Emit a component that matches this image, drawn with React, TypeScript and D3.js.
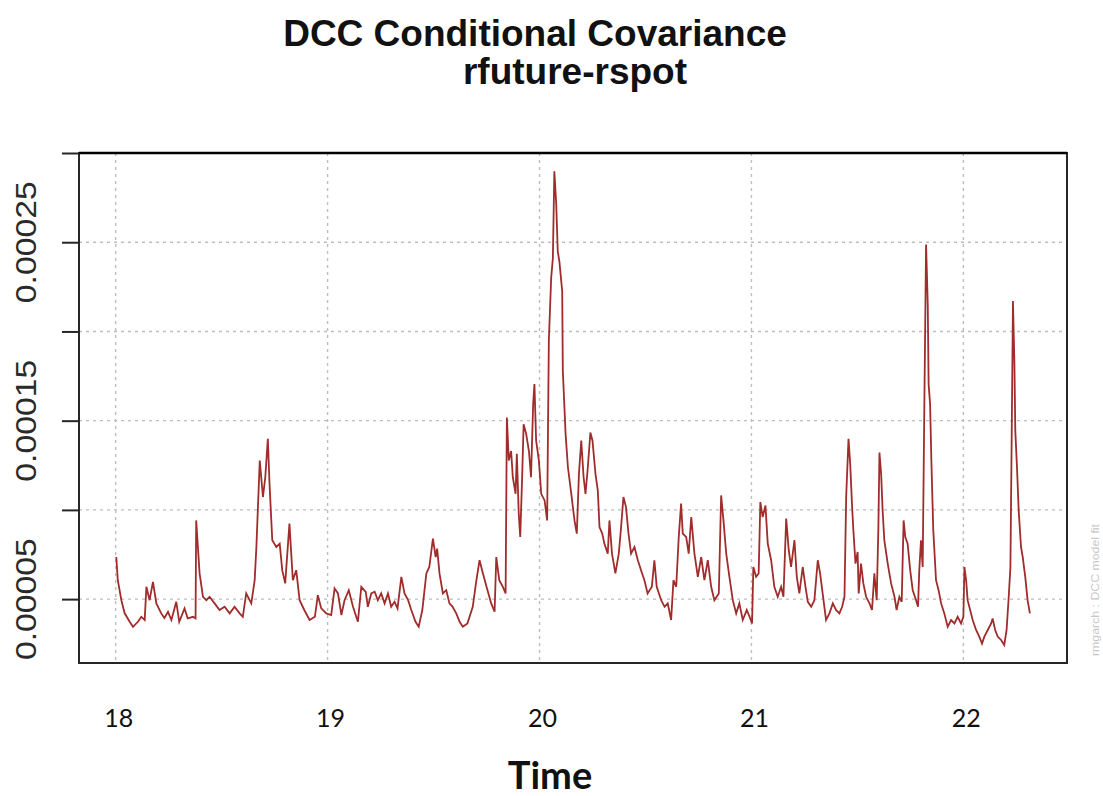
import React, { useEffect, useRef } from 'react';
import * as d3 from 'd3';

const years = [
  18.003, 18.010, 18.027, 18.042, 18.066, 18.082, 18.105, 18.121, 18.137, 18.145, 18.160, 18.176, 18.192, 18.215,
  18.230, 18.247, 18.263, 18.286, 18.300, 18.325, 18.340, 18.365, 18.377, 18.380, 18.388, 18.396, 18.412, 18.428,
  18.443, 18.467, 18.490, 18.514, 18.538, 18.561, 18.585, 18.600, 18.616, 18.640, 18.656, 18.664, 18.680, 18.695,
  18.706, 18.718, 18.726, 18.739, 18.758, 18.774, 18.786, 18.800, 18.820, 18.836, 18.852, 18.868, 18.890, 18.915,
  18.940, 18.954, 18.970, 18.994, 19.017, 19.033, 19.049, 19.065, 19.080, 19.100, 19.120, 19.143, 19.159, 19.180,
  19.190, 19.206, 19.222, 19.237, 19.253, 19.269, 19.285, 19.300, 19.316, 19.330, 19.348, 19.363, 19.380, 19.395,
  19.415, 19.430, 19.447, 19.466, 19.480, 19.497, 19.510, 19.517, 19.528, 19.544, 19.560, 19.575, 19.590, 19.607,
  19.623, 19.638, 19.660, 19.685, 19.700, 19.717, 19.733, 19.750, 19.772, 19.788, 19.796, 19.810, 19.827, 19.840,
  19.846, 19.855, 19.866, 19.874, 19.887, 19.893, 19.902, 19.909, 19.918, 19.925, 19.937, 19.950, 19.960, 19.970,
  19.976, 19.984, 19.997, 20.008, 20.024, 20.036, 20.044, 20.055, 20.063, 20.070, 20.079, 20.086, 20.094, 20.107,
  20.110, 20.123, 20.134, 20.150, 20.165, 20.176, 20.186, 20.197, 20.208, 20.217, 20.228, 20.240, 20.250, 20.264,
  20.275, 20.283, 20.296, 20.306, 20.322, 20.330, 20.342, 20.358, 20.374, 20.385, 20.396, 20.408, 20.420, 20.432,
  20.448, 20.464, 20.479, 20.495, 20.510, 20.530, 20.542, 20.553, 20.574, 20.590, 20.605, 20.621, 20.632, 20.645,
  20.657, 20.668, 20.676, 20.692, 20.704, 20.716, 20.731, 20.747, 20.763, 20.778, 20.794, 20.810, 20.825, 20.846,
  20.857, 20.868, 20.881, 20.896, 20.912, 20.928, 20.943, 20.959, 20.978, 20.991, 21.003, 21.009, 21.022, 21.034,
  21.042, 21.053, 21.066, 21.077, 21.093, 21.108, 21.124, 21.140, 21.151, 21.164, 21.176, 21.187, 21.203, 21.214,
  21.226, 21.242, 21.255, 21.266, 21.282, 21.297, 21.313, 21.324, 21.336, 21.352, 21.368, 21.384, 21.399, 21.415,
  21.428, 21.439, 21.447, 21.458, 21.466, 21.475, 21.481, 21.491, 21.501, 21.506, 21.517, 21.528, 21.541, 21.557,
  21.569, 21.580, 21.591, 21.599, 21.604, 21.612, 21.619, 21.627, 21.643, 21.659, 21.675, 21.685, 21.698, 21.709,
  21.718, 21.726, 21.737, 21.749, 21.761, 21.777, 21.786, 21.792, 21.800, 21.808, 21.816, 21.824, 21.832, 21.836,
  21.843, 21.849, 21.858, 21.871, 21.883, 21.895, 21.910, 21.926, 21.942, 21.958, 21.973, 21.989, 22.000, 22.005,
  22.013, 22.020, 22.032, 22.044, 22.060, 22.075, 22.088, 22.099, 22.115, 22.131, 22.138, 22.150, 22.162, 22.178,
  22.193, 22.204, 22.214, 22.222, 22.228, 22.234, 22.241, 22.245, 22.253, 22.261, 22.272, 22.280, 22.292, 22.303,
  22.314,
];

// conditional covariance rfuture-rspot
const covariance = [
  7.36e-5, 6.06e-5, 4.94e-5, 4.22e-5, 3.73e-5, 3.45e-5, 3.73e-5, 4.01e-5, 3.83e-5, 5.69e-5, 4.94e-5, 5.97e-5, 4.76e-5, 4.20e-5,
  3.94e-5, 4.29e-5, 3.83e-5, 4.85e-5, 3.73e-5, 4.48e-5, 3.92e-5, 4.01e-5, 3.92e-5, 9.41e-5, 7.92e-5, 6.44e-5, 5.13e-5, 4.94e-5,
  5.13e-5, 4.76e-5, 4.39e-5, 4.57e-5, 4.20e-5, 4.57e-5, 4.20e-5, 4.01e-5, 5.32e-5, 4.76e-5, 6.06e-5, 7.92e-5, 12.77e-5, 10.72e-5,
  11.83e-5, 13.98e-5, 11.46e-5, 8.30e-5, 7.92e-5, 8.11e-5, 6.62e-5, 5.88e-5, 9.23e-5, 6.06e-5, 6.62e-5, 4.94e-5, 4.39e-5, 3.83e-5,
  4.01e-5, 5.22e-5, 4.48e-5, 4.20e-5, 4.11e-5, 5.60e-5, 5.32e-5, 4.11e-5, 4.94e-5, 5.50e-5, 4.57e-5, 3.73e-5, 5.69e-5, 5.41e-5,
  4.57e-5, 5.32e-5, 5.41e-5, 4.94e-5, 5.32e-5, 4.76e-5, 5.32e-5, 4.57e-5, 4.85e-5, 4.48e-5, 6.25e-5, 5.32e-5, 4.94e-5, 4.39e-5,
  3.73e-5, 3.45e-5, 4.39e-5, 6.44e-5, 6.80e-5, 8.39e-5, 7.36e-5, 7.83e-5, 6.44e-5, 5.32e-5, 5.50e-5, 4.76e-5, 4.57e-5, 4.20e-5,
  3.73e-5, 3.45e-5, 3.64e-5, 4.57e-5, 5.88e-5, 7.18e-5, 6.44e-5, 5.69e-5, 4.76e-5, 4.29e-5, 7.36e-5, 6.06e-5, 5.69e-5, 5.32e-5,
  15.18e-5, 12.77e-5, 13.30e-5, 11.83e-5, 10.90e-5, 13.14e-5, 9.79e-5, 8.48e-5, 11.83e-5, 14.80e-5, 14.26e-5, 13.30e-5, 11.83e-5, 15.93e-5,
  17.05e-5, 13.88e-5, 12.77e-5, 10.90e-5, 10.53e-5, 9.41e-5, 19.47e-5, 23.00e-5, 24.10e-5, 28.97e-5, 27.10e-5, 24.50e-5, 23.90e-5, 22.26e-5,
  17.80e-5, 14.26e-5, 12.39e-5, 10.90e-5, 9.41e-5, 8.67e-5, 12.02e-5, 13.88e-5, 11.83e-5, 10.90e-5, 12.39e-5, 14.34e-5, 13.88e-5, 12.02e-5,
  11.09e-5, 9.04e-5, 8.67e-5, 8.11e-5, 7.55e-5, 9.41e-5, 7.55e-5, 6.44e-5, 7.55e-5, 9.04e-5, 10.72e-5, 10.16e-5, 8.67e-5, 7.55e-5,
  7.92e-5, 7.18e-5, 6.62e-5, 6.06e-5, 5.32e-5, 5.69e-5, 7.18e-5, 5.69e-5, 4.94e-5, 4.57e-5, 4.76e-5, 3.83e-5, 6.06e-5, 5.69e-5,
  8.48e-5, 10.35e-5, 8.67e-5, 8.48e-5, 7.55e-5, 9.60e-5, 7.55e-5, 6.25e-5, 7.36e-5, 6.06e-5, 7.18e-5, 5.69e-5, 4.94e-5, 5.32e-5,
  10.81e-5, 9.41e-5, 7.55e-5, 6.25e-5, 4.94e-5, 4.20e-5, 4.76e-5, 3.83e-5, 4.39e-5, 4.01e-5, 3.64e-5, 6.80e-5, 6.25e-5, 6.44e-5,
  10.44e-5, 9.60e-5, 10.25e-5, 8.11e-5, 7.18e-5, 5.69e-5, 5.13e-5, 5.69e-5, 5.13e-5, 9.51e-5, 7.74e-5, 6.80e-5, 8.30e-5, 6.25e-5,
  5.32e-5, 6.80e-5, 5.69e-5, 4.85e-5, 4.57e-5, 4.94e-5, 7.18e-5, 6.44e-5, 5.32e-5, 3.83e-5, 4.20e-5, 4.76e-5, 4.39e-5, 4.20e-5,
  4.57e-5, 5.13e-5, 10.72e-5, 13.98e-5, 12.58e-5, 10.16e-5, 8.85e-5, 6.99e-5, 7.64e-5, 5.32e-5, 6.99e-5, 5.88e-5, 5.13e-5, 4.76e-5,
  4.39e-5, 6.44e-5, 4.94e-5, 9.04e-5, 13.21e-5, 12.02e-5, 9.97e-5, 8.30e-5, 6.99e-5, 5.88e-5, 5.13e-5, 4.39e-5, 5.13e-5, 4.85e-5,
  9.41e-5, 8.48e-5, 8.11e-5, 6.62e-5, 5.50e-5, 4.94e-5, 4.57e-5, 6.62e-5, 8.30e-5, 6.80e-5, 16.03e-5, 24.87e-5, 21.52e-5, 17.05e-5,
  15.93e-5, 12.77e-5, 8.85e-5, 6.06e-5, 5.50e-5, 4.76e-5, 4.20e-5, 3.45e-5, 3.83e-5, 3.64e-5, 4.01e-5, 3.64e-5, 4.01e-5, 6.80e-5,
  6.06e-5, 4.94e-5, 4.39e-5, 3.83e-5, 3.27e-5, 2.90e-5, 2.51e-5, 2.90e-5, 3.27e-5, 3.64e-5, 3.92e-5, 3.27e-5, 2.90e-5, 2.71e-5,
  2.43e-5, 3.27e-5, 5.13e-5, 6.80e-5, 14.05e-5, 21.70e-5, 18.11e-5, 14.44e-5, 12.39e-5, 9.97e-5, 7.92e-5, 7.36e-5, 6.25e-5, 4.94e-5,
  4.20e-5,
];

const yTicks = [0.00005, 0.0001, 0.00015, 0.0002, 0.00025, 0.0003];
const yTickLabels = ['0.00005', '', '0.00015', '', '0.00025', ''];
const gridValues = [0.00005, 0.0001, 0.00015, 0.0002, 0.00025];
const xTicks = [18, 19, 20, 21, 22];
const xTickLabels = ['18', '19', '20', '21', '22'];

const titleLine1 = 'DCC Conditional Covariance';
const titleLine2 = 'rfuture-rspot';
const xTitle = 'Time';
const credit = 'rmgarch  :  DCC model fit';

const App = () => {
  const ref = useRef(null);

  const width = 1103, height = 796;
  const marginLeft = 79, marginRight = 36, marginTop = 153, marginBottom = 133;

  const LINE = '#a02c2c';
  const FRAME = '#262626';
  const GRID = '#bdbdbd';

  useEffect(() => {
    const svg = d3.select(ref.current)
      .attr('width', width)
      .attr('height', height)
      .attr('viewBox', [0, 0, width, height]);

    svg.selectAll('*').remove();

    svg.append('rect').attr('width', width).attr('height', height).attr('fill', '#fff');

    const x = d3.scaleLinear()
      .domain([17.827, 22.489])
      .range([marginLeft, width - marginRight]);

    const y = d3.scaleLinear()
      .domain([0.0000142, 0.0003])
      .range([height - marginBottom, marginTop]);

    // dotted grid
    svg.append('g')
      .selectAll('line')
      .data(gridValues)
      .join('line')
      .attr('x1', marginLeft).attr('x2', width - marginRight)
      .attr('y1', d => y(d)).attr('y2', d => y(d))
      .attr('stroke', GRID).attr('stroke-width', 1.4)
      .attr('stroke-dasharray', '3,4');

    svg.append('g')
      .selectAll('line')
      .data(xTicks)
      .join('line')
      .attr('x1', d => x(d)).attr('x2', d => x(d))
      .attr('y1', marginTop).attr('y2', height - marginBottom)
      .attr('stroke', GRID).attr('stroke-width', 1.4)
      .attr('stroke-dasharray', '3,4');

    // series
    const line = d3.line<number>()
      .x((d, i) => x(years[i]))
      .y(d => y(d));

    svg.append('path')
      .datum(covariance)
      .attr('fill', 'none')
      .attr('stroke', LINE)
      .attr('stroke-width', 1.8)
      .attr('stroke-linejoin', 'miter')
      .attr('d', line);

    // box
    svg.append('rect')
      .attr('x', marginLeft)
      .attr('y', marginTop)
      .attr('width', width - marginLeft - marginRight)
      .attr('height', height - marginTop - marginBottom)
      .attr('fill', 'none')
      .attr('stroke', FRAME)
      .attr('stroke-width', 2);

    svg.append('line')
      .attr('x1', marginLeft).attr('x2', width - marginRight)
      .attr('y1', marginTop).attr('y2', marginTop)
      .attr('stroke', '#000').attr('stroke-width', 2.5);

    // left axis
    svg.append('g')
      .attr('transform', `translate(${marginLeft},0)`)
      .call(d3.axisLeft(y).tickValues(yTicks).tickSize(17).tickFormat(() => ''))
      .call(g => {
        g.select('.domain').remove();
        g.selectAll('.tick line').attr('stroke', FRAME).attr('stroke-width', 2);
      });

    svg.append('g')
      .selectAll('text')
      .data(yTicks.map((v, i) => ({ v, label: yTickLabels[i] })).filter(d => d.label))
      .join('text')
      .attr('transform', d => `translate(36,${y(d.v)}) rotate(-90)`)
      .attr('text-anchor', 'middle')
      .attr('font-family', '"Liberation Sans", Arial, sans-serif')
      .attr('font-size', 30)
      .attr('textLength', 122)
      .attr('lengthAdjust', 'spacingAndGlyphs')
      .attr('fill', '#2a2a2a')
      .text(d => d.label);

    // x labels
    svg.append('g')
      .selectAll('text')
      .data(xTicks.map((v, i) => ({ v, label: xTickLabels[i] })))
      .join('text')
      .attr('x', d => x(d.v) + 3)
      .attr('y', 727)
      .attr('text-anchor', 'middle')
      .attr('font-family', 'Lato, "Open Sans", sans-serif')
      .attr('font-size', 25)
      .attr('fill', '#111')
      .text(d => d.label);

    svg.append('text')
      .attr('x', 550)
      .attr('y', 789)
      .attr('text-anchor', 'middle')
      .attr('font-family', 'Lato, "Open Sans", sans-serif')
      .attr('font-weight', 'bold')
      .attr('font-size', 38)
      .attr('fill', '#111')
      .text(xTitle);

    // titles
    svg.append('text')
      .attr('x', 535)
      .attr('y', 46)
      .attr('text-anchor', 'middle')
      .attr('font-family', '"Liberation Sans", Arial, sans-serif')
      .attr('font-weight', 'bold')
      .attr('font-size', 37)
      .attr('fill', '#111')
      .text(titleLine1);

    svg.append('text')
      .attr('x', 575)
      .attr('y', 84)
      .attr('text-anchor', 'middle')
      .attr('font-family', '"Liberation Sans", Arial, sans-serif')
      .attr('font-weight', 'bold')
      .attr('font-size', 37)
      .attr('fill', '#111')
      .text(titleLine2);

    // tiny credit on the right margin
    svg.append('text')
      .attr('transform', `translate(1099,590) rotate(-90)`)
      .attr('text-anchor', 'middle')
      .attr('font-family', '"Liberation Sans", Arial, sans-serif')
      .attr('font-size', 10)
      .attr('textLength', 132)
      .attr('lengthAdjust', 'spacingAndGlyphs')
      .attr('fill', '#c8c8c8')
      .text(credit);
  }, []);

  return <svg ref={ref} style={{ position: 'absolute', left: 0, top: 0, display: 'block' }}></svg>;
};

export default App;
